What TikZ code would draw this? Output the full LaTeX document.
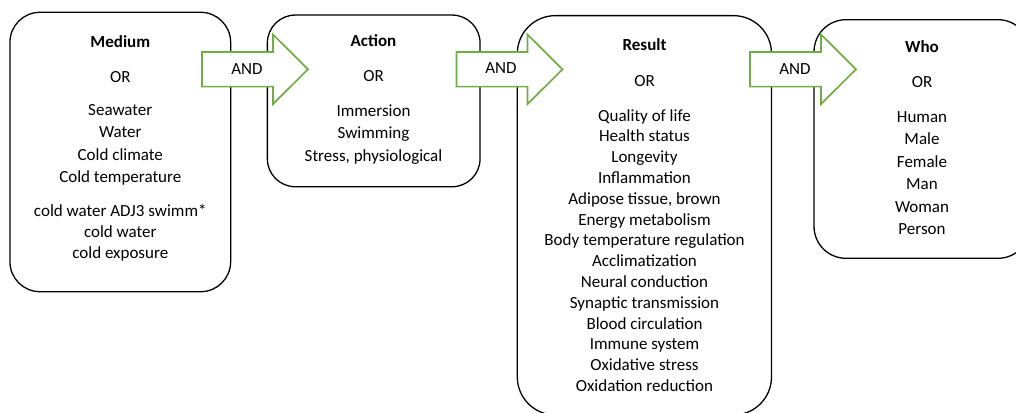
\documentclass[tikz,border=0pt]{standalone}
\usepackage{fontspec}
\setmainfont{Carlito}
\usepackage{xcolor}
\usetikzlibrary{positioning}
\definecolor{andgreen}{RGB}{112,173,71}

\begin{document}
\begin{tikzpicture}[x=1pt, y=-1pt,
    box/.style={draw, line width=1.3pt, rounded corners=#1, inner sep=0pt},
    list/.style={anchor=north, align=center, inner sep=0pt, font=\fontsize{17}{22.5}\selectfont},
    andarrow/.style={draw=andgreen, fill=white, line width=1.7pt, line join=miter},
    andlabel/.style={anchor=base, inner sep=0pt, font=\fontsize{17}{20}\selectfont}]

    % Page frame
    \useasboundingbox (0, 0) rectangle (1016, 412);
    \clip (0, 0) rectangle (1016, 412);

    % The four blocks
    \node (medium) [box=30pt, minimum width=220.7pt, minimum height=279.4pt] at (120.3, 152) {};
    \node (action) [box=28pt, minimum width=212.7pt, minimum height=171.7pt] at (373.7, 100.9) {};
    \node (result) [box=38pt, minimum width=254.2pt, minimum height=399.3pt] at (644.4, 215.3) {};
    \node (who) [box=32pt, minimum width=216pt, minimum height=238.6pt] at (922, 139) {};

    % The terms in each block
    \node (mediumlist) [list] at (120.3, 31.25) {\textbf{Medium}\strut\\[12.5pt] OR\\[10.5pt]
        Seawater\\ Water\\ Cold climate\\ Cold temperature\\[11.5pt]
        cold water ADJ3 swimm*\\[-1.5pt] cold water\\[-1.5pt] cold exposure};
    \node (actionlist) [list] at (373.5, 30.75) {\textbf{Action}\strut\\[12.5pt] OR\\[12pt]
        Immersion\\ Swimming\\ Stress, physiological};
    \node (resultlist) [list, font=\fontsize{17}{20.8}\selectfont] at (644.5, 36.1) {\textbf{Result}\strut\\[14.5pt] OR\\[14.2pt]
        Quality of life\\ Health status\\ Longevity\\ Inflammation\\ Adipose tissue, brown\\
        Energy metabolism\\ Body temperature regulation\\ Acclimatization\\ Neural conduction\\
        Synaptic transmission\\ Blood circulation\\ Immune system\\ Oxidative stress\\
        Oxidation reduction};
    \node (wholist) [list, font=\fontsize{17}{22.4}\selectfont] at (922, 37) {\textbf{Who}\strut\\[12.6pt] OR\\[12.2pt]
        Human\\ Male\\ Female\\ Man\\ Woman\\ Person};

    % The AND arrows
    \draw [andarrow] (202, 52) -- ++(71, 0) -- ++(0, -17.5) -- ++(35, 34.8) -- ++(-35, 34.8)
        -- ++(0, -17.5) -- ++(-71, 0) -- cycle;
    \draw [andarrow] (456.5, 52) -- ++(71, 0) -- ++(0, -17.5) -- ++(35, 34.8) -- ++(-35, 34.8)
        -- ++(0, -17.5) -- ++(-71, 0) -- cycle;
    \draw [andarrow] (750, 52) -- ++(71, 0) -- ++(0, -17.5) -- ++(35, 34.8) -- ++(-35, 34.8)
        -- ++(0, -17.5) -- ++(-71, 0) -- cycle;

    \node (and1) [andlabel] at (247, 74.3) {AND};
    \node (and2) [andlabel] at (501, 74) {AND};
    \node (and3) [andlabel] at (795, 74.3) {AND};

\end{tikzpicture}
\end{document}
